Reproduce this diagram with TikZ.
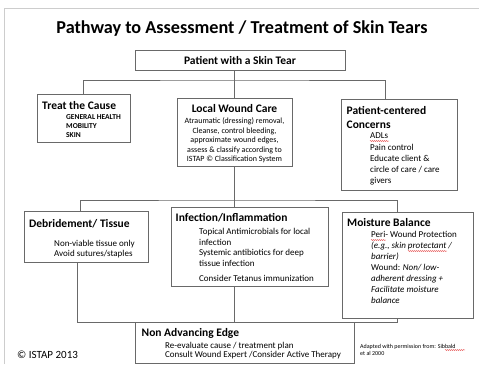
\documentclass[tikz,border=0pt]{standalone}
\usepackage{fontspec}
\setmainfont{Carlito}
\usetikzlibrary{positioning,decorations.pathmorphing}

\definecolor{linegray}{RGB}{105,105,105}
\definecolor{pagegray}{RGB}{205,205,205}
\definecolor{spellred}{RGB}{225,45,45}

\tikzset{
  box/.style={draw=linegray, line width=0.7pt, inner sep=0pt, outer sep=0pt, anchor=north west},
  link/.style={draw=linegray, line width=0.7pt},
  head/.style={font=\bfseries\fontsize{11.5}{14.5}\selectfont, inner sep=0pt, align=left},
  item/.style={font=\fontsize{9}{11}\selectfont, inner sep=0pt, align=left},
  wavy/.style={draw=spellred, line width=0.45pt, decorate, decoration={snake, amplitude=0.45pt, segment length=2pt}}
}

\begin{document}
\begin{tikzpicture}[x=1pt,y=-1pt]
\useasboundingbox (0,0) rectangle (479,364);
% edge of the slide
\draw[pagegray, line width=0.8pt] (4,364) -- (4,8) -- (479,8);

\node[font=\bfseries\fontsize{18.2}{21}\selectfont, inner sep=0pt] (title) at (242,28.5) {Pathway to Assessment / Treatment of Skin Tears};

% first row
\node[box, minimum width=210pt, minimum height=20pt, font=\bfseries\fontsize{11.5}{14}\selectfont] (patient) at (135,50) {Patient with a Skin Tear};
\node[box, minimum width=93pt, minimum height=48pt] (treat) at (37,94) {};
\node[box, minimum width=115pt, minimum height=68pt] (lwc) at (177,98) {};
\node[box, minimum width=116pt, minimum height=91pt] (pcc) at (341,99) {};

\node[head, below right=7pt and 5pt of treat.north west] (treathead) {Treat the Cause};
\node[font=\bfseries\fontsize{7.5}{9}\selectfont, inner sep=0pt, align=left, below right=20pt and 29pt of treat.north west] (treattext) {GENERAL HEALTH\\MOBILITY\\SKIN};

\node[head, below=6.5pt of lwc.north] (lwchead) {Local Wound Care};
\node[font=\fontsize{8}{9.6}\selectfont, inner sep=0pt, align=center, below=19.5pt of lwc.north] (lwctext) {Atraumatic (dressing) removal,\\Cleanse, control bleeding,\\approximate wound edges,\\assess \& classify according to\\ISTAP © Classification System};

\node[head, below right=7pt and 5.5pt of pcc.north west] (pcchead) {Patient-centered\\Concerns};
\node[item, font=\fontsize{9}{11.25}\selectfont, below right=34pt and 29pt of pcc.north west] (pcctext) {ADLs\\Pain control\\Educate client \&\\circle of care / care\\givers};
\draw[wavy] ([yshift=-8pt]pcctext.north west) -- ++(19,0);

% second row
\node[box, minimum width=124pt, minimum height=51pt] (debride) at (24,211) {};
\node[box, minimum width=157pt, minimum height=79pt] (infect) at (171,207) {};
\node[box, minimum width=131pt, minimum height=106pt] (moist) at (342,212) {};

\node[head, below right=8.5pt and 5pt of debride.north west] (debhead) {Debridement/ Tissue};
\node[item, font=\fontsize{9}{10}\selectfont, below right=29pt and 30pt of debride.north west] (debtext) {Non-viable tissue only\\Avoid sutures/staples};

\node[head, below right=6.5pt and 4.5pt of infect.north west] (infhead) {Infection/Inflammation};
\node[item, font=\fontsize{9}{10.4}\selectfont, below right=21.5pt and 28pt of infect.north west] (inftext) {Topical Antimicrobials for local\\infection\\Systemic antibiotics for deep\\tissue infection\\[5pt]Consider Tetanus immunization};

\node[head, below right=6pt and 5pt of moist.north west] (moisthead) {Moisture Balance};
\node[item, below right=19.5pt and 29pt of moist.north west] (moisttext) {Peri- Wound Protection\\\textit{(e.g., skin protectant /}\\\textit{barrier)}\\Wound: \textit{Non/ low-}\\\textit{adherent dressing +}\\\textit{Facilitate moisture}\\\textit{balance}};
\draw[wavy] ([yshift=-8.5pt]moisttext.north west) -- ++(15,0);
\draw[wavy] ([xshift=37pt,yshift=-19.5pt]moisttext.north west) -- ++(39,0);

% last box
\node[box, minimum width=219pt, minimum height=41pt] (nae) at (135,322) {};
\node[head, below right=6pt and 6.5pt of nae.north west] (naehead) {Non Advancing Edge};
\node[item, font=\fontsize{9}{9.5}\selectfont, below right=20pt and 30pt of nae.north west] (naetext) {Re-evaluate cause / treatment plan\\Consult Wound Expert /Consider Active Therapy};

\node[font=\fontsize{11}{13}\selectfont, inner sep=0pt, anchor=west] (copyright) at (17,354.5) {© ISTAP 2013};
\node[font=\fontsize{6}{7.3}\selectfont, inner sep=0pt, align=left, anchor=north west] (credit) at (360,344) {Adapted with permission from: Sibbald\\et al 2000};
\draw[wavy] ([xshift=85pt,yshift=-6pt]credit.north west) -- ++(20,0);

% connectors
\coordinate (split1) at (235,80);
\coordinate (pccin) at (385,99);
\draw[link] (lwc.north |- patient.south) -- (lwc.north);
\draw[link] (treat.north) |- (split1) -| (pccin);

\coordinate (split2) at (235,200);
\coordinate (debin) at (80,211);
\coordinate (moistin) at (397,212);
\draw[link] (lwc.south) -- (lwc.south |- infect.north);
\draw[link] (debin) |- (split2) -| (moistin);

\coordinate (debout) at (77,262);
\coordinate (moistout) at (397,318);
\draw[link] (debout) |- (nae.north -| moistout) -- (moistout);
\draw[link] (lwc.south |- infect.south) -- (lwc.south |- nae.north);
\end{tikzpicture}
\end{document}
